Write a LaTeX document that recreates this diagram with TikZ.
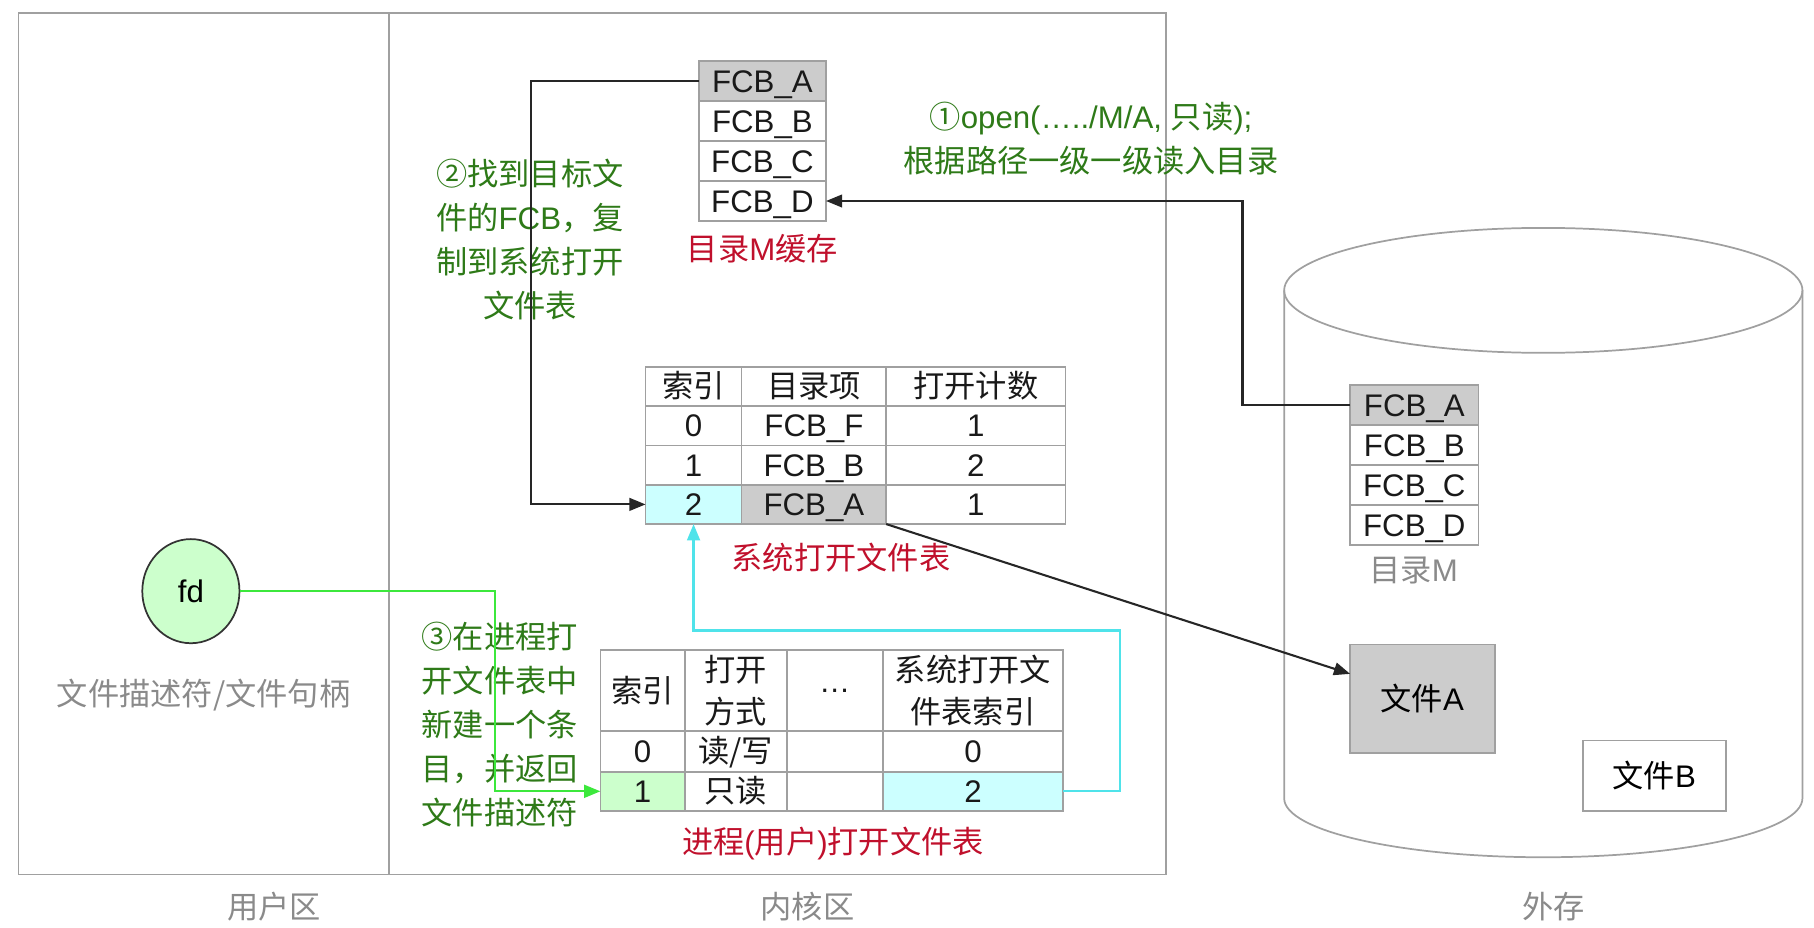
\documentclass[tikz,border=0pt]{standalone}
\usepackage{fontspec}
\setmainfont{Liberation Sans}
\newfontfamily\cjk{Noto Sans CJK SC}
\usetikzlibrary{arrows.meta,shapes.geometric}
\definecolor{linegray}{HTML}{A0A0A0}
\definecolor{labgray}{HTML}{8A8A8A}
\definecolor{txtgreen}{HTML}{2E7A18}
\definecolor{txtred}{HTML}{C0102C}
\definecolor{fillgray}{HTML}{CCCCCC}
\definecolor{fillcyan}{HTML}{CCFFFF}
\definecolor{fillgreen}{HTML}{CCFFCC}
\definecolor{arrcyan}{HTML}{4FE3EA}
\definecolor{arrgreen}{HTML}{3CE83C}
\newcommand\fs{\fontsize{13.5pt}{19pt}\selectfont}
\newcommand\fst{\fontsize{13.5pt}{18pt}\selectfont}
\newcommand\lat[1]{{\rmfamily #1}}
\begin{document}
\begin{tikzpicture}[x=0.5pt,y=-0.5pt,
  cell/.style={draw=linegray, line width=0.75pt, anchor=north west, inner sep=0pt, outer sep=0pt, font=\fs, text=black!90},
  one/.style={text height=9.7pt, text depth=0pt},
  srow/.style={cell, one, minimum height=17pt},
  crow/.style={cell, one, minimum height=17.25pt, minimum width=55pt},
  drow/.style={cell, one, minimum height=17.25pt, minimum width=55.5pt},
  lab/.style={font={\fs\cjk}, inner sep=0pt},
  note/.style={font={\fs\cjk}, text=txtgreen, align=center, inner sep=0pt},
  blk/.style={draw=black!85, line width=0.9pt, -{Triangle[length=7pt,width=5.5pt]}},
  grn/.style={draw=arrgreen, line width=1pt, -{Triangle[length=7pt,width=5.5pt]}},
  cyn/.style={draw=arrcyan, line width=1pt, -{Triangle[length=7pt,width=5.5pt]}},
  filebox/.style={draw=linegray, line width=0.75pt, anchor=north west, inner sep=0pt, outer sep=0pt, font={\fs\cjk}}
]
\useasboundingbox (0,0) rectangle (1568,801.4);

% regions
\draw[linegray, line width=0.75pt] (16,11) rectangle (1008,756);
\draw[linegray, line width=0.75pt] (336,11) -- (336,756);
\node[lab, text=labgray] (uarea) at (237,784) {用户区};
\node[lab, text=labgray] (karea) at (698,784) {内核区};
\node[lab, text=labgray] (ext) at (1343,784) {外存};

% disk cylinder
\draw[linegray, line width=0.75pt] (1334,251) ellipse [x radius=112pt, y radius=27pt];
\draw[linegray, line width=0.75pt] (1110,251) -- (1110,690) arc[start angle=180, end angle=360, x radius=112pt, y radius=25.5pt] -- (1558,251);

% directory cache
\node[crow, fill=fillgray] (c1) at (604,53) {FCB\_A};
\node[crow] (c2) at (604,87.5) {FCB\_B};
\node[crow] (c3) at (604,122) {FCB\_C};
\node[crow] (c4) at (604,156.5) {FCB\_D};
\node[lab, text=txtred] (clab) at (659,215) {目录\lat{M}缓存};

% disk directory
\node[drow, fill=fillgray] (d1) at (1167,333) {FCB\_A};
\node[drow] (d2) at (1167,367.5) {FCB\_B};
\node[drow] (d3) at (1167,402) {FCB\_C};
\node[drow] (d4) at (1167,436.5) {FCB\_D};
\node[lab, text=labgray] (dlab) at (1222,493) {目录\lat{M}};

% files
\node[filebox, fill=fillgray, minimum width=62.5pt, minimum height=47pt] (fileA) at (1167,557) {文件\lat{A}};
\node[filebox, fill=white, minimum width=62pt, minimum height=30.5pt] (fileB) at (1368,640) {文件\lat{B}};

% system open file table
\node[srow, minimum width=41.5pt, font={\fs\cjk}] (s00) at (558,317) {索引};
\node[srow, minimum width=62.5pt, font={\fs\cjk}] (s01) at (641,317) {目录项};
\node[srow, minimum width=77.5pt, font={\fs\cjk}] (s02) at (766,317) {打开计数};
\node[srow, minimum width=41.5pt] (s10) at (558,351) {0};
\node[srow, minimum width=62.5pt] (s11) at (641,351) {FCB\_F};
\node[srow, minimum width=77.5pt] (s12) at (766,351) {1};
\node[srow, minimum width=41.5pt] (s20) at (558,385) {1};
\node[srow, minimum width=62.5pt] (s21) at (641,385) {FCB\_B};
\node[srow, minimum width=77.5pt] (s22) at (766,385) {2};
\node[srow, minimum width=41.5pt, fill=fillcyan] (s30) at (558,419) {2};
\node[srow, minimum width=62.5pt, fill=fillgray] (s31) at (641,419) {FCB\_A};
\node[srow, minimum width=77.5pt] (s32) at (766,419) {1};
\node[lab, text=txtred] (slab) at (727,482) {系统打开文件表};

% process open file table
\node[cell, minimum width=36.5pt, minimum height=35pt, font={\fs\cjk}] (p00) at (519,562) {索引};
\node[cell, minimum width=44pt, minimum height=35pt, align=center, font={\fst\cjk}] (p01) at (592,562) {打开\\方式};
\node[cell, minimum width=41.5pt, minimum height=35pt] (p02) at (680,562) {…};
\node[cell, minimum width=78pt, minimum height=35pt, align=center, font={\fst\cjk}] (p03) at (763,562) {系统打开文\\件表索引};
\node[cell, one, minimum width=36.5pt, minimum height=17.5pt] (p10) at (519,632) {0};
\node[cell, one, minimum width=44pt, minimum height=17.5pt, font={\fs\cjk}] (p11) at (592,632) {读/写};
\node[cell, minimum width=41.5pt, minimum height=17.5pt] (p12) at (680,632) {};
\node[cell, one, minimum width=78pt, minimum height=17.5pt] (p13) at (763,632) {0};
\node[cell, one, minimum width=36.5pt, minimum height=17pt, fill=fillgreen] (p20) at (519,667) {1};
\node[cell, one, minimum width=44pt, minimum height=17pt, font={\fs\cjk}] (p21) at (592,667) {只读};
\node[cell, minimum width=41.5pt, minimum height=17pt] (p22) at (680,667) {};
\node[cell, one, minimum width=78pt, minimum height=17pt, fill=fillcyan] (p23) at (763,667) {2};
\node[lab, text=txtred] (plab) at (720,729) {进程\lat{(}用户\lat{)}打开文件表};

% fd
\node[ellipse, draw=black!80, line width=0.75pt, fill=fillgreen, minimum width=42pt, minimum height=45pt, inner sep=0pt, font=\fs] (fd) at (165,511) {fd};
\node[lab, text=labgray] (fdlab) at (176,601) {文件描述符/文件句柄};

% notes
\node[note] (n1) at (943,120) {①\lat{open(…../M/A, }只读\lat{);}\\根据路径一级一级读入目录};
\node[note] (n2) at (458,207) {②找到目标文\\件的\lat{FCB}，复\\制到系统打开\\文件表};
\node[note] (n3) at (432,626) {③在进程打\\开文件表中\\新建一个条\\目，并返回\\文件描述符};

% connectors
\coordinate (bk) at (459,70.25);
\coordinate (dk) at (1074,350.25);
\coordinate (gk) at (428,511);
\coordinate (cy) at (968,545);
\draw[blk] (c1.west) -- (bk) |- (s30.west);
\draw[blk] (d1.west) -- (dk) |- (c4.east);
\draw[blk] (s31.south east) -- (fileA.161);
\draw[grn] (fd.east) -- (gk) |- (p20.west);
\draw[cyn] (p23.east) -| (cy) -| (s30.south);
\end{tikzpicture}
\end{document}
